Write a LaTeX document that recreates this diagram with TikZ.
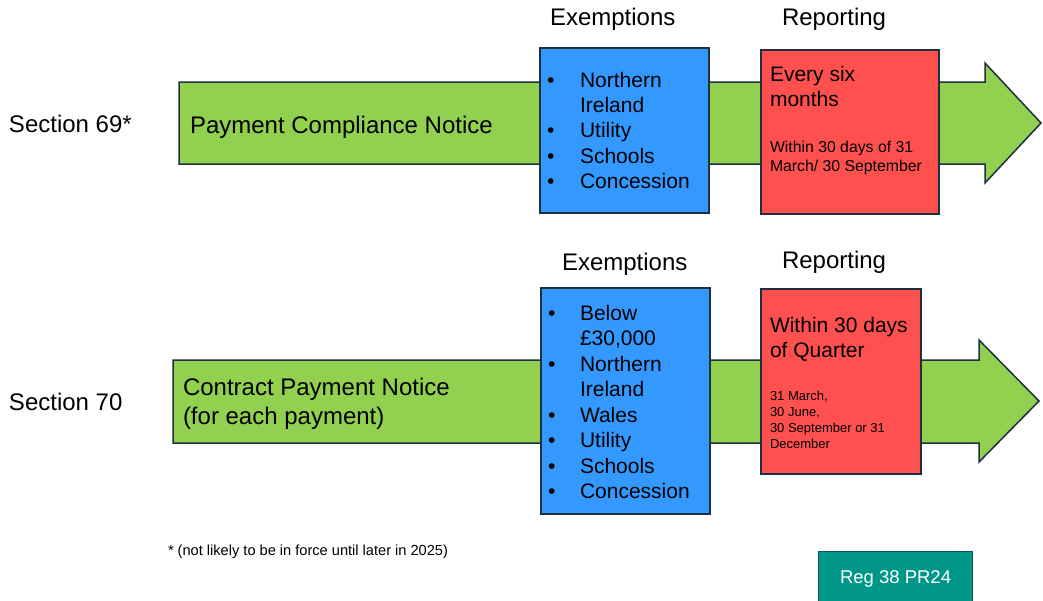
\documentclass[tikz,border=0pt]{standalone}
\usepackage{fontspec}
\setmainfont{Liberation Sans}
\definecolor{grn}{HTML}{92D050}
\definecolor{blu}{HTML}{3399FF}
\definecolor{rd}{HTML}{FF5050}
\definecolor{teal2}{HTML}{009688}
\definecolor{edge}{HTML}{1C3040}
\tikzset{
  txt/.style={anchor=base west, inner sep=0pt, outer sep=0pt},
  big/.style={txt, font=\fontsize{24}{28}\selectfont},
  mid/.style={txt, font=\fontsize{21}{25}\selectfont},
  sml/.style={txt, font=\fontsize{15.8}{18}\selectfont},
  tny/.style={txt, font=\fontsize{13}{16}\selectfont},
  arrowshape/.style={fill=grn, draw=edge, line width=1.5pt, line join=miter},
  box/.style={draw=edge, line width=1.5pt, anchor=north west, inner sep=0pt},
}
\begin{document}
\begin{tikzpicture}[x=1pt, y=-1pt]
\useasboundingbox (0,0) rectangle (1043,600);

% ---- arrows
\draw[arrowshape] (179,82) -- (985,82) -- (985,63) -- (1041,123) -- (985,183) -- (985,164) -- (179,164) -- cycle;
\draw[arrowshape] (173,360) -- (979,360) -- (979,340) -- (1039,401) -- (979,462) -- (979,443) -- (173,443) -- cycle;

% ---- boxes
\node[box, fill=blu, minimum width=169, minimum height=165] (ex1) at (539,47) {};
\node[box, fill=rd, minimum width=178, minimum height=164] (rp1) at (760,49) {};
\node[box, fill=blu, minimum width=169, minimum height=226] (ex2) at (540,287) {};
\node[box, fill=rd, minimum width=160, minimum height=185] (rp2) at (760,288) {};
\node[box, fill=teal2, draw=edge!70!teal2, line width=1pt, minimum width=154, minimum height=50] (reg) at (818,551) {};

% ---- headers
\node[big] (h1e) at (550,25) {Exemptions};
\node[big] (h1r) at (782,25) {Reporting};
\node[big] (h2e) at (562,270) {Exemptions};
\node[big] (h2r) at (782,268) {Reporting};

% ---- side labels
\node[big] (s69) at (9,132) {Section 69*};
\node[big] (s70) at (9,410) {Section 70};

% ---- arrow labels
\node[big] (pcn) at (190,133) {Payment Compliance Notice};
\node[big] (cpn1) at (183,395) {Contract Payment Notice};
\node[big] (cpn2) at (183,424) {(for each payment)};

% ---- exemptions 1
\foreach \y/\b/\t [count=\i] in {87/1/Northern, 112/0/Ireland, 137/1/Utility, 163/1/Schools, 188/1/Concession}{
  \node[mid] (e1t\i) at (580,\y) {\t};
  \ifnum\b=1 \node[mid] (e1b\i) at (547,\y) {\textbullet}; \fi
}
% ---- exemptions 2
\foreach \y/\b/\t [count=\i] in {320/1/Below, 345/0/{£30,000}, 371/1/Northern, 396/0/Ireland, 422/1/Wales, 447/1/Utility, 473/1/Schools, 498/1/Concession}{
  \node[mid] (e2t\i) at (580,\y) {\t};
  \ifnum\b=1 \node[mid] (e2b\i) at (548,\y) {\textbullet}; \fi
}
% ---- reporting 1
\node[mid] (r1a) at (770,81) {Every six};
\node[mid] (r1b) at (770,106) {months};
\node[sml] (r1c) at (770,152) {Within 30 days of 31};
\node[sml] (r1d) at (770,171) {March/ 30 September};
% ---- reporting 2
\node[mid] (r2a) at (770,332) {Within 30 days};
\node[mid] (r2b) at (770,357) {of Quarter};
\node[tny] (r2c) at (770,400) {31 March,};
\node[tny] (r2d) at (770,416) {30 June,};
\node[tny] (r2e) at (770,432) {30 September or 31};
\node[tny] (r2f) at (770,448) {December};

% ---- footnote and tag
\node[txt, font=\fontsize{14.6}{17}\selectfont] (fn) at (168,555) {* (not likely to be in force until later in 2025)};
\node[txt, font=\fontsize{18.5}{22}\selectfont, text=white] (regt) at (840,583) {Reg 38 PR24};
\end{tikzpicture}
\end{document}
